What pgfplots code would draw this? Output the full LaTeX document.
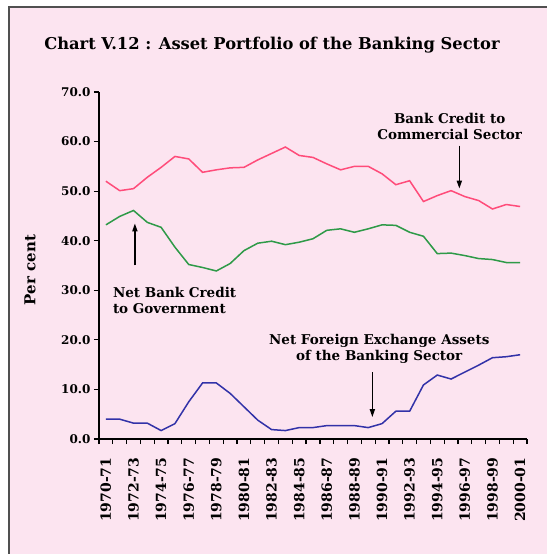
\documentclass[border=0pt]{standalone}
\usepackage{fontspec}
\setmainfont{DejaVu Serif}
\usepackage{pgfplots}
\pgfplotsset{compat=1.18}
\usepackage{pgfplotstable}
\usetikzlibrary{arrows.meta, backgrounds}
\definecolor{bgPink}{HTML}{FCE4F0}
\definecolor{frameGray}{HTML}{505050}
\definecolor{lnPink}{HTML}{FF4C7A}
\definecolor{lnGreen}{HTML}{2E9A48}
\definecolor{lnBlue}{HTML}{3232A8}

% year index 0 = 1970-71 ... 30 = 2000-01
\pgfplotstableread{
i  bcc   nbcg  nfea
0  52.0  43.2  4.0
1  50.1  44.9  4.0
2  50.5  46.1  3.2
3  52.8  43.7  3.2
4  54.8  42.7  1.7
5  57.0  38.7  3.1
6  56.5  35.2  7.5
7  53.8  34.6  11.3
8  54.3  33.9  11.3
9  54.7  35.4  9.2
10 54.8  38.0  6.5
11 56.3  39.5  3.8
12 57.6  39.9  1.9
13 58.9  39.2  1.7
14 57.2  39.7  2.3
15 56.8  40.4  2.3
16 55.5  42.1  2.7
17 54.3  42.4  2.7
18 55.0  41.7  2.7
19 55.0  42.4  2.3
20 53.5  43.2  3.1
21 51.3  43.1  5.6
22 52.1  41.7  5.6
23 47.9  40.9  10.9
24 49.1  37.4  12.9
25 50.1  37.5  12.1
26 48.9  37.0  13.5
27 48.1  36.4  14.9
28 46.4  36.2  16.4
29 47.3  35.6  16.6
30 46.9  35.6  17.0
}\assetdata

\tikzset{
  lbl/.style={font=\bfseries\fontsize{13.5}{16}\selectfont, align=center, inner sep=0pt},
  arr/.style={-{Triangle[length=8pt,width=5pt]}, line width=1.6pt, black},
}

\begin{document}
\begin{tikzpicture}
\begin{axis}[
  scale only axis,
  width=428pt, height=347pt,
  xmin=-0.5, xmax=30.5, ymin=0, ymax=70,
  axis x line*=bottom, axis y line*=left,
  axis line style={line width=1.5pt, black},
  ytick={0,10,...,70},
  yticklabel style={/pgf/number format/.cd, fixed, fixed zerofill, precision=1,
    assume math mode=true},
  xtick={0,2,...,30},
  xticklabels={1970-71,1972-73,1974-75,1976-77,1978-79,1980-81,1982-83,1984-85,
    1986-87,1988-89,1990-91,1992-93,1994-95,1996-97,1998-99,2000-01},
  minor xtick={-0.5,0.5,...,30.5},
  tick align=outside,
  major tick length=5pt, minor tick length=5pt,
  every tick/.style={black, line width=1.2pt},
  major x tick style={draw=none},
  xticklabel shift=10pt,
  tick label style={font=\bfseries\fontsize{12}{14}\selectfont},
  x tick label style={rotate=90, anchor=east, font=\bfseries\fontsize{14}{16}\selectfont},
  clip=false,
  every axis plot/.append style={line width=1.5pt},
]
  \addplot[lnPink] table[x=i, y=bcc] {\assetdata};
  \addplot[lnGreen] table[x=i, y=nbcg] {\assetdata};
  \addplot[lnBlue] table[x=i, y=nfea] {\assetdata};

  \node[lbl] at (axis cs:24.9,63.0) {Bank Credit to\\Commercial Sector};
  \draw[arr] (axis cs:25.6,59.2) -- (axis cs:25.6,50.5);
  \node[lbl, anchor=west, align=left] at (axis cs:0.5,28.0) {Net Bank Credit\\to Government};
  \draw[arr] (axis cs:2.1,35.0) -- (axis cs:2.1,43.5);
  \node[lbl] at (axis cs:19.8,18.2) {Net Foreign Exchange Assets\\of the Banking Sector};
  \draw[arr] (axis cs:19.3,13.5) -- (axis cs:19.3,4.4);
  \coordinate (SW) at (rel axis cs:0,0);
\end{axis}
% frame, title and y label in image pixels (y up), relative to the axis corner at (99,115)
\begin{scope}[shift={(SW)}, x=1pt, y=1pt, xshift=-99pt, yshift=-115pt]
  \begin{scope}[on background layer]
    \fill[bgPink] (9,0) rectangle (547,547);
  \end{scope}
  \draw[frameGray, line width=1.5pt] (9,0) -- (9,547) -- (547,547);
  \node[font=\bfseries\fontsize{16.3}{19}\selectfont] at (272,509)
    {Chart V.12 : Asset Portfolio of the Banking Sector};
  \node[font=\bfseries\fontsize{15}{17}\selectfont, rotate=90] at (30,284) {Per cent};
  \pgfresetboundingbox
  \useasboundingbox (0,0) rectangle (547,554);
\end{scope}
\end{tikzpicture}
\end{document}
